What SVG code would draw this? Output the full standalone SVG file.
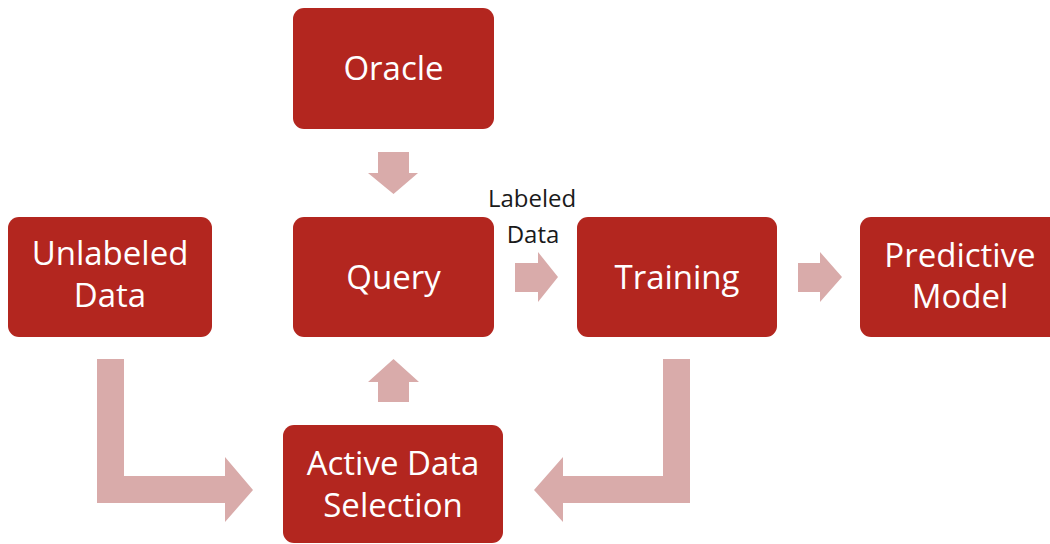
<svg xmlns="http://www.w3.org/2000/svg" width="1050" height="544" viewBox="0 0 1050 544">
  <style>
    .box { fill: #B3261F; }
    .lbl { fill: #FFFFFF; font-family: "Open Sans", "Noto Sans", sans-serif; font-size: 33px; text-anchor: middle; }
    .note { fill: #1A1A1A; font-family: "Open Sans", "Noto Sans", sans-serif; font-size: 24px; text-anchor: middle; }
    .arrow { fill: #D9ABAA; }
  </style>
  <rect width="1050" height="544" fill="#FFFFFF"/>

  <!-- block arrows -->
  <g id="connectors">
    <!-- Oracle -> Query -->
    <polygon class="arrow" points="378,152 409,152 409,173 418,173 393.5,194 368,173 378,173"/>
    <!-- Active Data Selection -> Query -->
    <polygon class="arrow" points="378,402 409,402 409,382 419,382 393.5,359 368,382 378,382"/>
    <!-- Query -> Training -->
    <polygon class="arrow" points="515,263 538,263 538,252 558,277 538,302 538,292 515,292"/>
    <!-- Training -> Predictive Model -->
    <polygon class="arrow" points="798,263 820,263 820,252 842,277 820,302 820,292 798,292"/>
    <!-- Unlabeled Data -> Active Data Selection -->
    <polygon class="arrow" points="97,359 124,359 124,476 225,476 225,457 253,490 225,522 225,503 97,503"/>
    <!-- Training -> Active Data Selection -->
    <polygon class="arrow" points="663,359 690,359 690,503 563,503 563,522 534,490 563,457 563,476 663,476"/>
    <text class="note" x="532" y="207">Labeled</text>
    <text class="note" x="533" y="243">Data</text>
  </g>

  <g id="oracle">
    <rect class="box" x="293" y="8" width="201" height="121" rx="11"/>
    <text class="lbl" x="393.5" y="80">Oracle</text>
  </g>
  <g id="unlabeled-data">
    <rect class="box" x="8" y="217" width="204" height="120" rx="11"/>
    <text class="lbl" x="110" y="265">Unlabeled</text>
    <text class="lbl" x="110" y="307">Data</text>
  </g>
  <g id="query">
    <rect class="box" x="293" y="217" width="201" height="120" rx="11"/>
    <text class="lbl" x="393.5" y="289">Query</text>
  </g>
  <g id="training">
    <rect class="box" x="577" y="217" width="200" height="120" rx="11"/>
    <text class="lbl" x="677" y="289">Training</text>
  </g>
  <g id="predictive-model">
    <rect class="box" x="860" y="217" width="200" height="120" rx="11"/>
    <text class="lbl" x="960" y="267">Predictive</text>
    <text class="lbl" x="960" y="308">Model</text>
  </g>
  <g id="active-data-selection">
    <rect class="box" x="283" y="425" width="220" height="118" rx="11"/>
    <text class="lbl" x="393" y="475">Active Data</text>
    <text class="lbl" x="393" y="517">Selection</text>
  </g>
</svg>
